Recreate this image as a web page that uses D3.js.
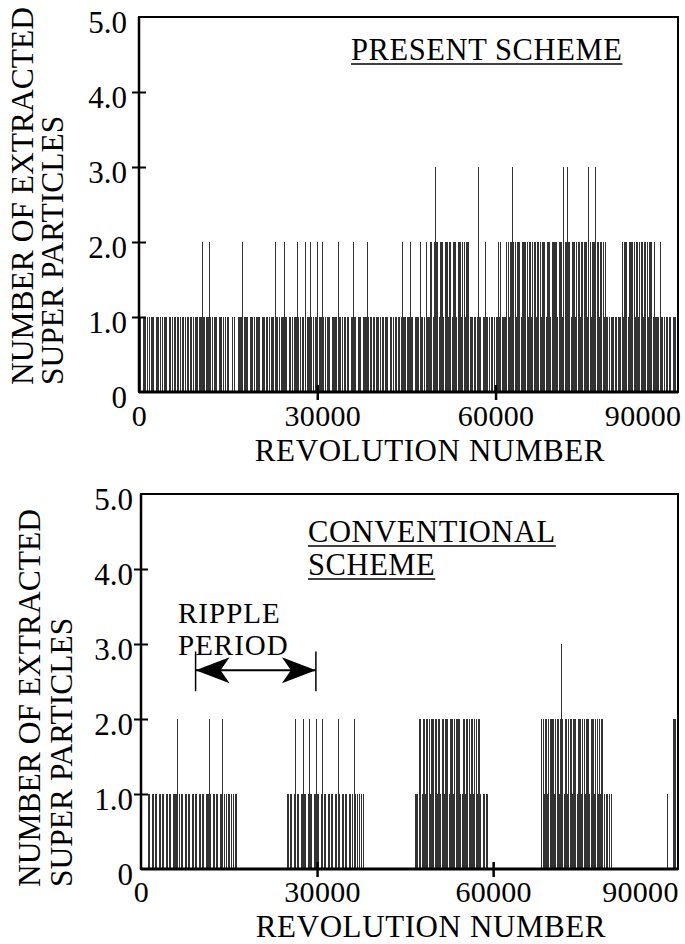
<!DOCTYPE html>
<html>
<head>
<meta charset="utf-8">
<script src="https://cdn.jsdelivr.net/npm/d3@7"></script>
<style>
  body { margin: 0; background: #fff; }
  svg { display: block; }
  text { font-family: "Liberation Serif", "DejaVu Serif", "Times New Roman", serif; fill: #000; }
</style>
</head>
<body>
<div id="chart"></div>
<script>
// Extracted super particles per bin of 200 revolutions.
// One string = 10000 revolutions, spaces only for readability.
const binSize = 200

const presentCounts = [
	'11011 10110 11101 11011 01110 11011 10111 01101 11011 10111',
	'11121 11112 11011 10111 01101 10010 10011 11211 11011 10111',
	'11011 10111 01112 11011 11211 01101 11121 10110 21112 11011',
	'21112 11011 10111 11211 01110 11011 21101 11011 11211 10111',
	'11011 10111 01101 11011 12111 11121 10111 12110 12111 22123',
	'22122 21222 12212 22122 21221 22211 10111 31101 12111 01101',
	'11212 11112 21223 22122 21222 22122 12221 22212 22122 21222',
	'22122 21322 32212 22122 21222 22132 12223 22122 21211 10111',
	'11011 12122 21222 22122 12221 22212 22121 11121 10111 01101',
	'1101',
]

const conventionalCounts = [
	'00000 01101 10110 11011 01101 10111 12101 10110 11011 01101',
	'10110 11121 01101 10112 01101 10110 11000 00000 00000 00000',
	'00000 00000 00000 00000 00001 10110 12011 01121 10121 10112',
	'11012 01101 10110 11021 01101 10110 12101 01101 00000 00000',
	'00000 00000 00000 00000 00000 00000 00011 10221 22122 21222',
	'22122 12212 22122 21222 22112 21222 12212 21221 01101 10000',
	'00000 00000 00000 00000 00000 00000 00000 00000 02212 21222',
	'22122 21232 12212 22122 21222 12212 22122 21221 21221 01101',
	'10000 00000 00000 00000 00000 00000 00000 00000 00000 00010',
	'000222',
]

const yTicks = [0, 1, 2, 3, 4, 5]
const yTickLabels = ['0', '1.0', '2.0', '3.0', '4.0', '5.0']
const xTicks = [0, 30000, 60000, 90000]
const yTitleLines = ['NUMBER OF EXTRACTED', 'SUPER PARTICLES']
const xTitle = 'REVOLUTION NUMBER'

// ripple period arrow (revolutions) and its height (particles)
const rippleRange = [9300, 29800]
const rippleLevel = 2.65

const panels = [
	{
		counts: presentCounts, xMax: 90700,
		left: 139, right: 678, top: 17, bottom: 392,
		yPad: 12, xPad: 13, x90Shift: 7,
		titleLines: ['PRESENT SCHEME'], titleX: 351, titleY: 60,
		yTitleX: [33, 63], yTitleStart: 385,
		xTitleX: 430, xTitleY: 461,
	},
	{
		counts: conventionalCounts, xMax: 91500,
		left: 141, right: 678, top: 494, bottom: 869,
		yPad: 8, xPad: 12, x90Shift: 9,
		titleLines: ['CONVENTIONAL', 'SCHEME'], titleX: 308, titleY: 542,
		yTitleX: [40, 72], yTitleStart: 887,
		xTitleX: 431, xTitleY: 937,
		ripple: true,
	},
]

const fontFamily = '"Liberation Serif", "DejaVu Serif", serif'

const svg = d3.select('#chart').append('svg')
	.attr('width', 685).attr('height', 944)
	.style('background-color', '#fff')

function toBars(lines) {
	const codes = lines.join('').replace(/\s/g, '')
	return Array.from(codes, (c, i) => ({rev: i * binSize + binSize / 2, n: +c}))
		.filter(d => d.n > 0)
}

function drawPanel(p) {
	const x = d3.scaleLinear().domain([0, p.xMax]).range([p.left, p.right])
	const y = d3.scaleLinear().domain([0, 5]).range([p.bottom, p.top])
	const g = svg.append('g').attr('font-family', fontFamily)

	// bars
	g.append('g').selectAll('line')
		.data(toBars(p.counts)).join('line')
		.attr('x1', d => x(d.rev)).attr('x2', d => x(d.rev))
		.attr('y1', y(0)).attr('y2', d => y(d.n))
		.attr('stroke', '#333').attr('stroke-width', 1)
		.attr('shape-rendering', 'crispEdges')

	// frame
	g.append('rect')
		.attr('x', p.left).attr('y', p.top)
		.attr('width', p.right - p.left).attr('height', p.bottom - p.top)
		.attr('fill', 'none').attr('stroke', '#000').attr('stroke-width', 2)
	g.append('line')
		.attr('x1', p.left).attr('x2', p.right).attr('y1', p.bottom).attr('y2', p.bottom)
		.attr('stroke', '#000').attr('stroke-width', 3)
	g.append('line')
		.attr('x1', p.left).attr('x2', p.left).attr('y1', p.top).attr('y2', p.bottom)
		.attr('stroke', '#000').attr('stroke-width', 2.5)

	// y axis
	const yAxis = g.append('g')
		.attr('transform', `translate(${p.left},0)`)
		.call(d3.axisLeft(y).tickValues(yTicks).tickSize(0).tickPadding(p.yPad)
			.tickFormat((d, i) => yTickLabels[i]))
		.attr('font-family', fontFamily)
	yAxis.select('.domain').remove()
	yAxis.selectAll('text').attr('font-size', 31).attr('dy', '0.5em')
	yAxis.selectAll('.tick').filter(d => d > 0 && d < 5).append('line')
		.attr('x1', -7).attr('x2', 7).attr('stroke', '#000').attr('stroke-width', 2)

	// x axis
	const xAxis = g.append('g')
		.attr('transform', `translate(0,${p.bottom})`)
		.call(d3.axisBottom(x).tickValues(xTicks).tickSize(0).tickPadding(p.xPad)
			.tickFormat(d3.format('d')))
		.attr('font-family', fontFamily)
	xAxis.select('.domain').remove()
	xAxis.selectAll('text').attr('font-size', 30).attr('letter-spacing', 0.3)
	xAxis.selectAll('.tick').filter(d => d === 30000).select('text').attr('x', 5)
	xAxis.selectAll('.tick').filter(d => d === 90000).select('text')
		.attr('text-anchor', 'end').attr('x', p.x90Shift)
	xAxis.selectAll('.tick').filter(d => d > 0 && d < 90000).append('line')
		.attr('y1', -7).attr('y2', 8).attr('stroke', '#000').attr('stroke-width', 2.5)

	// axis titles
	yTitleLines.forEach((t, i) => {
		g.append('text')
			.attr('transform', `translate(${p.yTitleX[i]},${p.yTitleStart}) rotate(-90)`)
			.attr('font-size', 31.5)
			.text(t)
	})
	g.append('text')
		.attr('x', p.xTitleX).attr('y', p.xTitleY)
		.attr('text-anchor', 'middle').attr('font-size', 31)
		.attr('letter-spacing', 0.6)
		.text(xTitle)

	// underlined scheme title
	p.titleLines.forEach((t, i) => {
		const ty = p.titleY + i * 33
		const txt = g.append('text')
			.attr('x', p.titleX).attr('y', ty)
			.attr('font-size', 30.5).attr('letter-spacing', 0.6)
			.text(t)
		const w = txt.node().getComputedTextLength()
		g.append('line')
			.attr('x1', p.titleX).attr('x2', p.titleX + w)
			.attr('y1', ty + 4).attr('y2', ty + 4)
			.attr('stroke', '#000').attr('stroke-width', 1.5)
	})

	if (p.ripple) drawRipple(g, x, y)
}

function drawRipple(g, x, y) {
	const [x1, x2] = rippleRange.map(x)
	const ya = y(rippleLevel)
	g.append('text').attr('x', 178).attr('y', 623).attr('font-size', 29).attr('letter-spacing', 1).text('RIPPLE')
	g.append('text').attr('x', 178).attr('y', 655).attr('font-size', 29).attr('letter-spacing', 1).text('PERIOD')
	g.append('line')
		.attr('x1', x1).attr('x2', x2).attr('y1', ya).attr('y2', ya)
		.attr('stroke', '#000').attr('stroke-width', 2)
	;[x1, x2].forEach(xx => {
		g.append('line')
			.attr('x1', xx).attr('x2', xx)
			.attr('y1', y(rippleLevel + 0.25)).attr('y2', y(rippleLevel - 0.28))
			.attr('stroke', '#000').attr('stroke-width', 1.5)
	})
	// arrow heads
	const head = (tip, dir) => `M${tip},${ya} L${tip + dir * 34},${ya - 13} L${tip + dir * 25},${ya} L${tip + dir * 34},${ya + 13} Z`
	g.append('path').attr('d', head(x1, 1)).attr('fill', '#000')
	g.append('path').attr('d', head(x2, -1)).attr('fill', '#000')
}

panels.forEach(drawPanel)
</script>
</body>
</html>
